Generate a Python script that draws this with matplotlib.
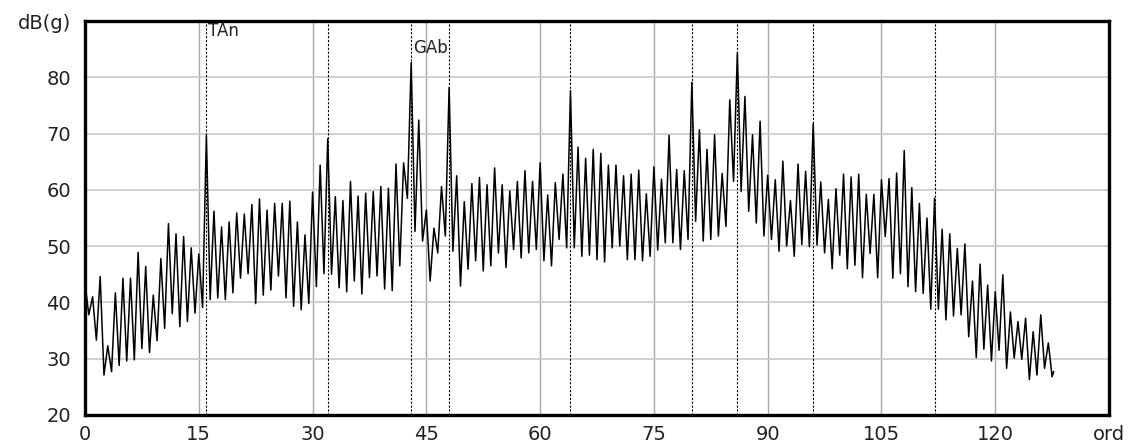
import numpy as np
import matplotlib
matplotlib.use("Agg")
import matplotlib.pyplot as plt

# peak level at each order 0..127
peaks = [43.4, 41.0, 44.6, 32.3, 41.7, 44.3, 44.3, 48.9, 46.4, 41.3,
         47.8, 54.0, 52.2, 51.7, 49.7, 48.6, 69.7, 56.2, 53.4, 54.3,
         55.9, 55.7, 57.4, 58.4, 56.4, 57.6, 57.6, 58.0, 54.3, 52.0,
         59.6, 64.4, 69.1, 58.8, 58.1, 61.5, 58.9, 59.4, 59.7, 60.6,
         60.3, 64.6, 64.8, 82.6, 72.4, 56.4, 53.2, 60.6, 78.2, 62.5,
         57.9, 61.1, 62.2, 60.9, 63.9, 60.9, 59.8, 61.5, 63.4, 61.5,
         64.8, 59.1, 61.3, 62.8, 77.6, 67.6, 65.6, 67.2, 66.5, 64.4,
         64.4, 62.5, 62.8, 63.5, 59.3, 64.1, 61.9, 69.7, 63.6, 63.4,
         79.1, 70.7, 67.2, 69.8, 62.9, 76.0, 84.4, 76.6, 69.8, 72.2,
         62.6, 61.8, 65.1, 58.1, 64.6, 63.3, 71.8, 61.4, 58.3, 60.2,
         62.8, 62.3, 62.8, 59.2, 59.2, 61.8, 62.0, 63.0, 67.0, 60.4,
         57.6, 55.0, 58.5, 53.0, 52.2, 49.6, 50.4, 43.8, 46.8, 43.1,
         41.9, 44.9, 38.3, 36.6, 37.2, 34.8, 37.8, 32.8]

# valley level between order k and k+1
valleys = [37.8, 33.3, 27.1, 27.7, 28.8, 29.6, 29.8, 31.8, 31.1, 33.2,
           35.4, 38.0, 35.7, 36.6, 38.1, 39.1, 40.5, 40.8, 40.5, 41.7,
           44.3, 45.1, 39.8, 41.3, 42.2, 44.7, 40.8, 39.3, 38.7, 39.8,
           42.8, 45.1, 45.0, 42.6, 41.9, 43.8, 41.5, 44.4, 44.7, 42.4,
           42.1, 46.5, 58.5, 52.6, 50.9, 43.8, 48.8, 51.8, 49.1, 42.9,
           45.9, 47.4, 45.6, 46.5, 48.8, 46.2, 49.4, 47.9, 48.8, 49.4,
           47.4, 46.5, 51.2, 49.7, 49.7, 48.2, 48.4, 47.6, 47.2, 49.7,
           50.0, 47.6, 47.6, 47.4, 48.2, 49.3, 50.6, 50.6, 49.4, 51.2,
           54.4, 50.9, 51.2, 51.8, 53.5, 61.5, 59.7, 56.2, 54.1, 51.8,
           51.2, 49.1, 50.0, 48.2, 50.3, 49.9, 50.2, 48.8, 46.0, 48.4,
           46.0, 46.6, 44.4, 48.7, 44.4, 51.7, 44.3, 45.1, 42.8, 41.9,
           41.6, 38.8, 38.8, 36.9, 37.6, 37.8, 33.9, 30.2, 31.7, 29.6,
           31.5, 28.3, 30.1, 29.9, 26.3, 27.1, 28.3, 26.8]
end_order = 127.7
end_level = 27.7

markers = [16, 32, 43, 48, 64, 80, 86, 96, 112]
marker_labels = {16: "TAn", 43: "GAb"}
label_levels = {16: 88.3, 43: 85.2}

x_ticks = [0, 15, 30, 45, 60, 75, 90, 105, 120, 135]
x_ticklabels = ["0", "15", "30", "45", "60", "75", "90", "105", "120", "ord"]
y_ticks = [20, 30, 40, 50, 60, 70, 80, 90]
y_ticklabels = ["20", "30", "40", "50", "60", "70", "80", "dB(g)"]

orders = np.arange(len(peaks))
xs = np.empty(2 * len(peaks))
ys = np.empty(2 * len(peaks))
xs[0::2] = orders
xs[1::2] = orders + 0.5
ys[0::2] = peaks
ys[1::2] = valleys
xs = np.append(xs, end_order)
ys = np.append(ys, end_level)

fig = plt.figure(figsize=(11.32, 4.47), dpi=100)
ax = fig.add_axes([0.0751, 0.0716, 0.9046, 0.8814])

ax.set_xlim(0, 135)
ax.set_ylim(20, 90)
ax.set_xticks(x_ticks)
ax.set_xticklabels(x_ticklabels)
ax.set_yticks(y_ticks)
ax.set_yticklabels(y_ticklabels)
ax.tick_params(length=0, labelsize=14, labelcolor="#222222")
ax.tick_params(axis="x", pad=7)
ax.tick_params(axis="y", pad=10)

ax.grid(True, axis="y", color="#c8c8c8", lw=1.2)
ax.grid(True, axis="x", color="#a8a8a8", lw=1.0)
ax.set_axisbelow(True)

for m in markers:
    ax.axvline(m, color="black", lw=0.8, ls=(0, (2, 1.5)), zorder=1.5)
for m, txt in marker_labels.items():
    ax.text(m + 0.2, label_levels[m], txt, fontsize=12, color="#222222",
            ha="left", va="center")

ax.plot(xs, ys, color="black", lw=1.1, zorder=3)

for s in ax.spines.values():
    s.set_linewidth(2.4)
    s.set_color("black")

fig.savefig("out.png", dpi=100)
